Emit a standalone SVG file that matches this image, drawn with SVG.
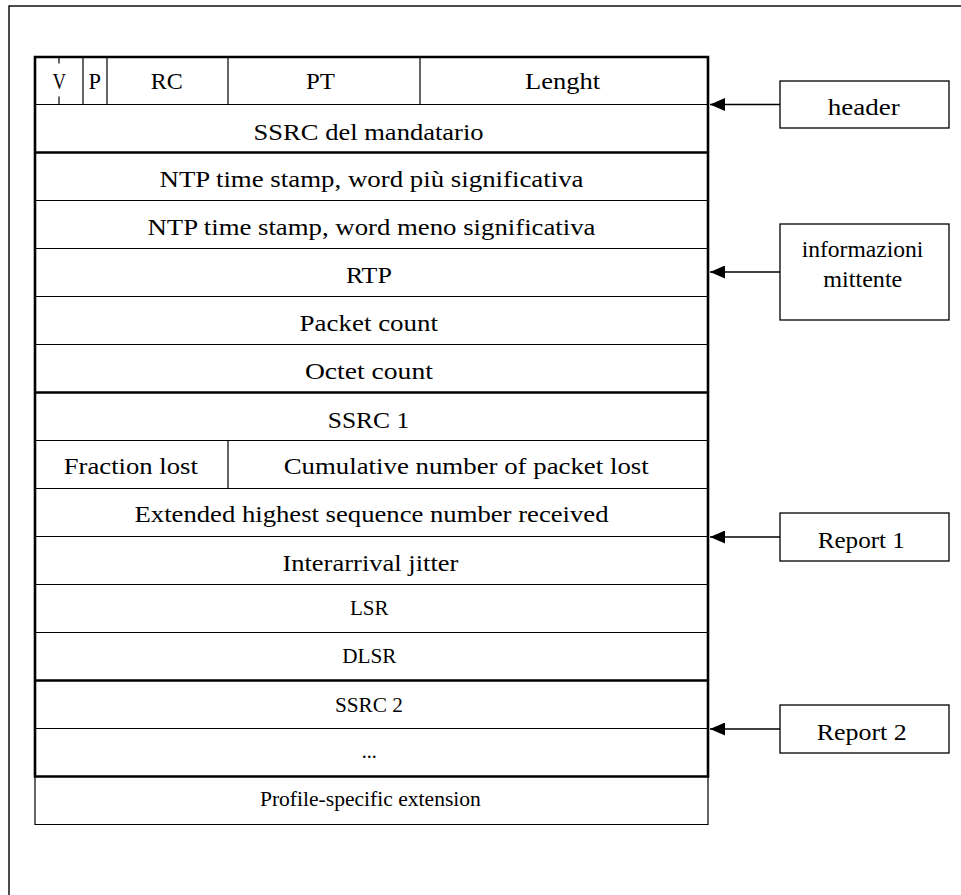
<svg xmlns="http://www.w3.org/2000/svg" width="961" height="895" viewBox="0 0 961 895">
  <style>
    .t { font-family: "Liberation Serif", "Times New Roman", serif; font-size: 23px; fill: #000; text-anchor: middle; }
    .s { font-size: 20px; }
    .thin { stroke: #000; stroke-width: 1.2; fill: none; }
    .thick { stroke: #000; stroke-width: 2.6; fill: none; }
    .box { stroke: #000; stroke-width: 1.3; fill: #fff; }
    .conn { stroke: #000; stroke-width: 1.3; fill: none; }
  </style>
  <defs>
    <marker id="arrow" markerUnits="userSpaceOnUse" viewBox="0 0 15 13" markerWidth="15" markerHeight="13" refX="15" refY="6.5" orient="auto">
      <path d="M0,0 L15,6.5 L0,13 Z" fill="#000"/>
    </marker>
  </defs>

  <rect width="961" height="895" fill="#fff"/>
  <!-- outer frame -->
  <rect x="9" y="6" width="1000" height="1000" fill="none" stroke="#000" stroke-width="1.4"/>

  <!-- RTCP sender report packet layout -->
  <g id="packet">
    <g id="row-header">
      <path class="thin" d="M83,57 V104.5 M107,57 V104.5 M228,57 V104.5 M420,57 V104.5 M35,104.5 H708"/>
      <path class="thin" d="M59,57 V63.5 M59,96.5 V104"/>
      <text class="t" x="59.3" y="89.3" textLength="13.5" lengthAdjust="spacingAndGlyphs">V</text>
      <text class="t" x="94.7" y="89.3" textLength="12.5" lengthAdjust="spacingAndGlyphs">P</text>
      <text class="t" x="166.7" y="89.3" textLength="32" lengthAdjust="spacingAndGlyphs">RC</text>
      <text class="t" x="320.5" y="89.3" textLength="29" lengthAdjust="spacingAndGlyphs">PT</text>
      <text class="t" x="562.5" y="89.3" textLength="75" lengthAdjust="spacingAndGlyphs">Lenght</text>
    </g>
    <g id="row-ssrc-sender">
      <text class="t" x="368.6" y="139.5" textLength="230" lengthAdjust="spacingAndGlyphs">SSRC del mandatario</text>
    </g>
    <g id="row-ntp-msw">
      <path class="thin" d="M35,200.5 H708"/>
      <text class="t" x="371.5" y="186.5" textLength="424" lengthAdjust="spacingAndGlyphs">NTP time stamp, word più significativa</text>
    </g>
    <g id="row-ntp-lsw">
      <path class="thin" d="M35,248.5 H708"/>
      <text class="t" x="371.5" y="234.5" textLength="448" lengthAdjust="spacingAndGlyphs">NTP time stamp, word meno significativa</text>
    </g>
    <g id="row-rtp">
      <path class="thin" d="M35,296.5 H708"/>
      <text class="t" x="368.9" y="282.5" textLength="46" lengthAdjust="spacingAndGlyphs">RTP</text>
    </g>
    <g id="row-packet-count">
      <path class="thin" d="M35,344.5 H708"/>
      <text class="t" x="368.8" y="330.5" textLength="138.5" lengthAdjust="spacingAndGlyphs">Packet count</text>
    </g>
    <g id="row-octet-count">
      <text class="t" x="368.9" y="379" textLength="128" lengthAdjust="spacingAndGlyphs">Octet count</text>
    </g>
    <g id="row-ssrc-1">
      <path class="thin" d="M35,440.5 H708"/>
      <text class="t" x="368.5" y="428" textLength="81.5" lengthAdjust="spacingAndGlyphs">SSRC 1</text>
    </g>
    <g id="row-lost">
      <path class="thin" d="M228,440.5 V488.5 M35,488.5 H708"/>
      <text class="t" x="130.8" y="474" textLength="134" lengthAdjust="spacingAndGlyphs">Fraction lost</text>
      <text class="t" x="466.2" y="474" textLength="365" lengthAdjust="spacingAndGlyphs">Cumulative number of packet lost</text>
    </g>
    <g id="row-ext-seq">
      <path class="thin" d="M35,536.5 H708"/>
      <text class="t" x="371.5" y="522" textLength="474" lengthAdjust="spacingAndGlyphs">Extended highest sequence number received</text>
    </g>
    <g id="row-jitter">
      <path class="thin" d="M35,584.5 H708"/>
      <text class="t" x="370.4" y="570.5" textLength="176" lengthAdjust="spacingAndGlyphs">Interarrival jitter</text>
    </g>
    <g id="row-lsr">
      <path class="thin" d="M35,632.5 H708"/>
      <text class="t s" x="369.3" y="615" textLength="38.6" lengthAdjust="spacingAndGlyphs">LSR</text>
    </g>
    <g id="row-dlsr">
      <text class="t s" x="369.3" y="663" textLength="54" lengthAdjust="spacingAndGlyphs">DLSR</text>
    </g>
    <g id="row-ssrc-2">
      <path class="thin" d="M35,728.5 H708"/>
      <text class="t s" x="368.9" y="711.5" textLength="68" lengthAdjust="spacingAndGlyphs">SSRC 2</text>
    </g>
    <g id="row-more">
      <text class="t s" x="369.3" y="758" textLength="15" lengthAdjust="spacingAndGlyphs">...</text>
    </g>
    <g id="row-profile-ext">
      <path class="thin" d="M35,776.5 V824.5 H708 V776.5"/>
      <text class="t s" x="370.4" y="806" textLength="221" lengthAdjust="spacingAndGlyphs">Profile-specific extension</text>
    </g>
    <!-- heavy section borders -->
    <path class="thick" d="M35,57 H708 M35,152.5 H708 M35,392.5 H708 M35,680.5 H708 M35,776.5 H708 M35,55.7 V777.8 M708,55.7 V777.8"/>
  </g>

  <!-- section labels -->
  <g id="label-header">
    <rect class="box" x="780" y="81" width="169" height="47"/>
    <text class="t" x="863.8" y="115" textLength="72" lengthAdjust="spacingAndGlyphs">header</text>
  </g>
  <g id="label-sender-info">
    <rect class="box" x="780" y="224" width="169" height="96"/>
    <text class="t" x="862.5" y="256.7" textLength="121.7" lengthAdjust="spacingAndGlyphs">informazioni</text>
    <text class="t" x="862.8" y="287.3" textLength="79" lengthAdjust="spacingAndGlyphs">mittente</text>
  </g>
  <g id="label-report-1">
    <rect class="box" x="780" y="513" width="169" height="48"/>
    <text class="t" x="861.3" y="547.7" textLength="87.3" lengthAdjust="spacingAndGlyphs">Report 1</text>
  </g>
  <g id="label-report-2">
    <rect class="box" x="780" y="705" width="169" height="48"/>
    <text class="t" x="861.7" y="740" textLength="90" lengthAdjust="spacingAndGlyphs">Report 2</text>
  </g>

  <g id="connectors">
    <line class="conn" x1="780" y1="104.5" x2="710" y2="104.5" marker-end="url(#arrow)"/>
    <line class="conn" x1="780" y1="272" x2="710" y2="272" marker-end="url(#arrow)"/>
    <line class="conn" x1="780" y1="537" x2="710" y2="537" marker-end="url(#arrow)"/>
    <line class="conn" x1="780" y1="729" x2="710" y2="729" marker-end="url(#arrow)"/>
  </g>
</svg>
